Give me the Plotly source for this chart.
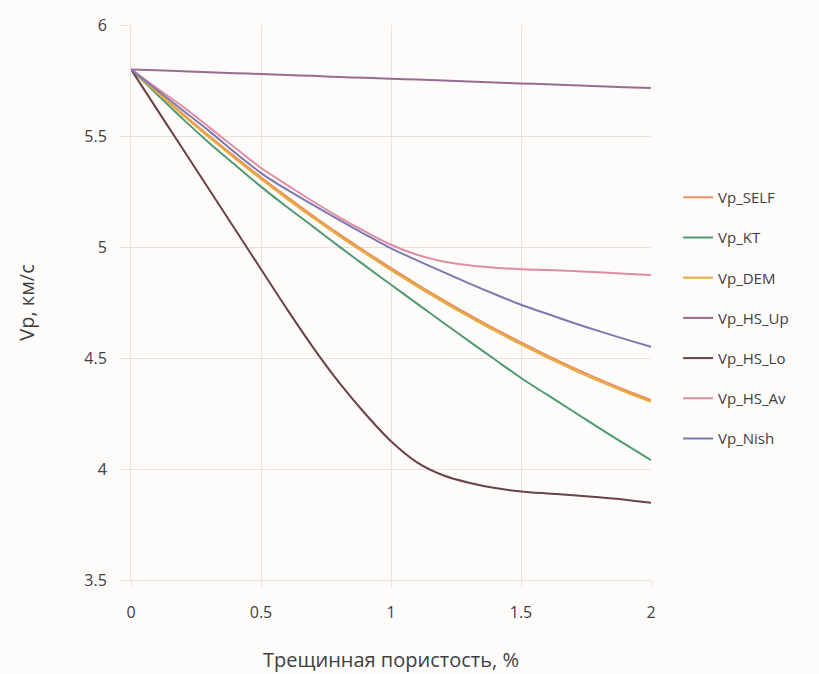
import plotly.graph_objects as go

x_vals = [0.0, 0.1, 0.2, 0.3, 0.4, 0.5, 0.6, 0.7, 0.8, 0.9, 1.0,
          1.1, 1.2, 1.3, 1.4, 1.5, 1.6, 1.7, 1.8, 1.9, 2.0]

vp_self = [5.800, 5.699, 5.599, 5.501, 5.406, 5.314, 5.226, 5.141, 5.059, 4.981, 4.905,
           4.832, 4.762, 4.695, 4.631, 4.570, 4.512, 4.457, 4.405, 4.356, 4.311]
vp_kt = [5.800, 5.688, 5.576, 5.470, 5.370, 5.272, 5.180, 5.092, 5.003, 4.916, 4.830,
         4.745, 4.660, 4.576, 4.493, 4.410, 4.335, 4.260, 4.185, 4.112, 4.040]
vp_dem = [5.800, 5.696, 5.594, 5.495, 5.399, 5.306, 5.217, 5.132, 5.050, 4.972, 4.896,
          4.823, 4.753, 4.686, 4.622, 4.561, 4.503, 4.448, 4.396, 4.348, 4.303]
vp_hs_up = [5.800, 5.796, 5.792, 5.787, 5.783, 5.779, 5.775, 5.771, 5.766, 5.762, 5.758,
            5.754, 5.750, 5.745, 5.741, 5.737, 5.733, 5.729, 5.724, 5.720, 5.716]
vp_hs_lo = [5.800, 5.620, 5.440, 5.260, 5.080, 4.900, 4.720, 4.548, 4.390, 4.250, 4.125,
            4.030, 3.972, 3.938, 3.914, 3.899, 3.890, 3.882, 3.873, 3.862, 3.848]
vp_hs_av = [5.800, 5.715, 5.632, 5.540, 5.447, 5.356, 5.280, 5.205, 5.135, 5.070, 5.010,
            4.965, 4.935, 4.918, 4.907, 4.900, 4.896, 4.892, 4.886, 4.880, 4.874]
vp_nish = [5.800, 5.707, 5.615, 5.523, 5.425, 5.333, 5.258, 5.190, 5.122, 5.057, 4.994,
           4.940, 4.888, 4.836, 4.787, 4.740, 4.699, 4.659, 4.621, 4.585, 4.550]

series = [
    ("Vp_SELF", vp_self, "#e8915c"),
    ("Vp_KT", vp_kt, "#4f9a6f"),
    ("Vp_DEM", vp_dem, "#e9aa3c"),
    ("Vp_HS_Up", vp_hs_up, "#9b6b8f"),
    ("Vp_HS_Lo", vp_hs_lo, "#6a4245"),
    ("Vp_HS_Av", vp_hs_av, "#e08ca2"),
    ("Vp_Nish", vp_nish, "#7b79b1"),
]

x_ticks = [0, 0.5, 1, 1.5, 2]
y_ticks = [3.5, 4, 4.5, 5, 5.5, 6]

font_family = "Open Sans, DejaVu Sans, sans-serif"
grid_col = "#ecdfda"

fig = go.Figure()
for name, vals, col in series:
    fig.add_trace(go.Scatter(
        x=x_vals, y=vals, name=name, mode="lines",
        line=dict(color=col, width=2, shape="spline", smoothing=0.8),
        legendgroup=name,
    ))

fig.update_layout(
    width=819, height=674,
    margin=dict(l=131, r=168, t=25, b=94),
    paper_bgcolor="#fdfcfa",
    plot_bgcolor="#fdfcfa",
    font=dict(family=font_family, color="#404040", size=15),
    showlegend=True,
    legend=dict(
        x=1.052, y=0.472, xanchor="left", yanchor="middle",
        bgcolor="rgba(0,0,0,0)", font=dict(size=15, color="#404040"),
        tracegroupgap=17.7, itemwidth=30,
    ),
    xaxis=dict(
        range=[0, 2], tickvals=x_ticks, ticktext=[str(v) for v in x_ticks],
        showgrid=True, gridcolor=grid_col, gridwidth=1, automargin=False,
        zeroline=False, showline=True, linecolor=grid_col, linewidth=1,
        ticks="outside", ticklen=6, tickcolor=grid_col, ticklabelstandoff=12,
        title=dict(text="Трещинная пористость, %", font=dict(size=20, color="#404040"), standoff=30),
        tickfont=dict(size=16, color="#404040"),
    ),
    yaxis=dict(
        range=[3.5, 6], tickvals=y_ticks, ticktext=["3.5", "4", "4.5", "5", "5.5", "6"],
        showgrid=True, gridcolor=grid_col, gridwidth=1, automargin=False,
        zeroline=False, showline=True, linecolor=grid_col, linewidth=1,
        ticks="outside", ticklen=10, tickcolor=grid_col, ticklabelstandoff=10,
        title=dict(text="Vp, км/с", font=dict(size=20, color="#404040"), standoff=44),
        tickfont=dict(size=16, color="#404040"),
    ),
)

fig.write_html("out.html")
